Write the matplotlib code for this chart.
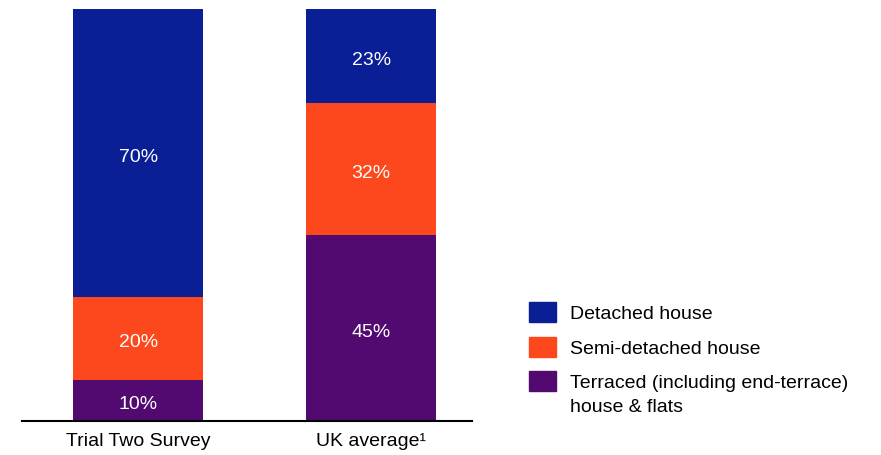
import matplotlib.pyplot as plt
from matplotlib.patches import Rectangle

categories = ["Trial Two Survey", "UK average\u00b9"]
series = ["Detached house", "Semi-detached house",
          "Terraced (including end-terrace)\nhouse & flats"]
terraced = [10, 45]
semi = [20, 32]
detached = [70, 23]

colors = {"detached": "#0a1f96", "semi": "#fc481c", "terraced": "#520a70"}

plt.rcParams["font.family"] = ["Liberation Sans", "DejaVu Sans"]

fig = plt.figure(figsize=(8.81, 4.56), dpi=100)
ax = fig.add_axes([0.025, 0.075, 0.511, 0.904])

x = [0, 1]
width = 0.558
stack = [(terraced, colors["terraced"]), (semi, colors["semi"]), (detached, colors["detached"])]
bottom = [0, 0]
for vals, col in stack:
    ax.bar(x, vals, width, bottom=bottom, color=col)
    for xi, v, b in zip(x, vals, bottom):
        # labels sit a touch below the segment middle
        ax.text(xi, b + v / 2 - 0.8, f"{v}%", ha="center", va="center",
                color="white", fontsize=14)
    bottom = [b + v for b, v in zip(bottom, vals)]

ax.set_xlim(-0.498, 1.433)
ax.set_ylim(0, 100)
for s in ["top", "right", "left"]:
    ax.spines[s].set_visible(False)
ax.spines["bottom"].set_linewidth(1.5)
ax.set_yticks([])
ax.set_xticks(x)
ax.set_xticklabels(categories, fontsize=14)
ax.tick_params(axis="x", length=0, pad=8)

# legend drawn by hand so the squares line up with the first text line
legend_rows = [(series[0], colors["detached"], 0.314),
               (series[1], colors["semi"], 0.237),
               (series[2], colors["terraced"], 0.162)]
for label, col, yc in legend_rows:
    fig.patches.append(Rectangle((0.600, yc - 0.022), 0.031, 0.044,
                                 transform=fig.transFigure, color=col))
    first, *rest = label.split("\n")
    fig.text(0.647, yc - 0.003, first, fontsize=14, va="center")
    for i, line in enumerate(rest, 1):
        fig.text(0.647, yc - 0.003 - 0.053 * i, line, fontsize=14, va="center")

fig.savefig("out.png", dpi=100)
